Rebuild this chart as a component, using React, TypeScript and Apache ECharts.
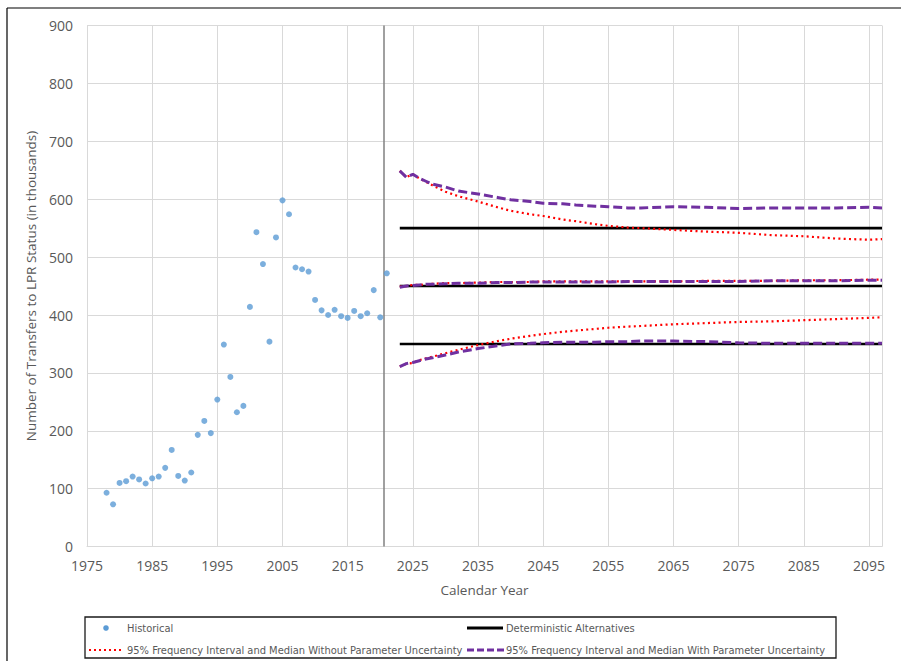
import React, { useEffect, useRef } from "react";
import * as echarts from "echarts";

// Historical transfers to LPR status (thousands), 1978-2021
const histYears = [
  1978, 1979, 1980, 1981, 1982, 1983, 1984, 1985, 1986, 1987, 1988, 1989, 1990, 1991,
  1992, 1993, 1994, 1995, 1996, 1997, 1998, 1999, 2000, 2001, 2002, 2003, 2004, 2005,
  2006, 2007, 2008, 2009, 2010, 2011, 2012, 2013, 2014, 2015, 2016, 2017, 2018, 2019,
  2020, 2021,
];
const histValues = [
  93, 73, 110, 113, 121, 116, 109, 118, 121, 136, 167, 122, 114, 128,
  193, 217, 196, 254, 349, 293, 232, 243, 414, 543, 488, 354, 534, 598,
  574, 482, 479, 475, 426, 408, 400, 409, 398, 395, 407, 398, 403, 443,
  396, 472,
];

// Projection years
const projYears = [
  2023, 2024, 2025, 2026, 2027, 2028, 2030, 2032, 2035, 2038, 2040, 2043, 2045, 2048,
  2050, 2053, 2055, 2058, 2060, 2065, 2070, 2075, 2080, 2085, 2090, 2095, 2097,
];

// Without parameter uncertainty (red dotted)
const noParamUpper = [
  649, 638, 643, 636, 630, 624, 613, 605, 596, 586, 580, 574, 571, 565,
  562, 557, 554, 551, 550, 547, 544, 542, 538, 536, 532, 530, 531,
];
const noParamMedian = [
  449, 450, 452, 452, 453, 454, 455, 455, 456, 457, 457, 457, 458, 458,
  458, 458, 458, 458, 458, 458, 459, 459, 459, 460, 460, 461, 461,
];
const noParamLower = [
  311, 316, 317, 322, 325, 328, 334, 340, 348, 355, 359, 364, 367, 371,
  373, 376, 378, 380, 381, 384, 386, 388, 389, 391, 393, 395, 396,
];

// With parameter uncertainty (purple dashed)
const paramUpper = [
  649, 638, 643, 636, 631, 626, 621, 614, 609, 603, 599, 596, 593, 592,
  590, 588, 587, 585, 585, 587, 586, 584, 585, 585, 585, 586, 585,
];
const paramMedian = [
  448, 450, 451, 452, 453, 453, 454, 455, 455, 456, 456, 457, 457, 457,
  457, 457, 457, 458, 458, 458, 458, 458, 459, 459, 459, 460, 460,
];
const paramLower = [
  311, 316, 318, 321, 324, 326, 331, 336, 342, 347, 350, 351, 352, 353,
  353, 353, 354, 354, 355, 355, 354, 352, 351, 351, 351, 351, 351,
];

// Deterministic alternatives (flat levels)
const detYears = [2023, 2097];
const detLevels = [550, 450, 350];

const divider = 2020.5;

const xTicks = { min: 1975, max: 2097, interval: 10 };
const yTicks = { min: 0, max: 900, interval: 100 };

const legendLabels = [
  "Historical",
  "Deterministic Alternatives",
  "95% Frequency Interval and Median Without Parameter Uncertainty",
  "95% Frequency Interval and Median With Parameter Uncertainty",
];

const RED = "#FF0000";
const PURPLE = "#7030A0";
const BLUE = "#5B9BD5";
const GRID = "#D9D9D9";
const TXT = "#595959";
const FONT = "'Open Sans', sans-serif";
const NARROW = "'Liberation Sans Narrow', 'DejaVu Sans Condensed', 'Open Sans', sans-serif";

const pairs = (xs: number[], ys: number[]) => xs.map((x, i) => [x, ys[i]]);

export default function App() {
  const ref = useRef<HTMLDivElement>(null);

  useEffect(() => {
    if (!ref.current) return;
    const chart = echarts.init(ref.current, undefined, { renderer: "svg" });

    const detSeries = detLevels.map((lv) => ({
      type: "line",
      name: legendLabels[1],
      data: detYears.map((y) => [y, lv]),
      showSymbol: false,
      symbol: "none",
      lineStyle: { color: "#000", width: 2.6 },
      z: 3,
    }));
    const redSeries = [noParamUpper, noParamMedian, noParamLower].map((d) => ({
      type: "line",
      name: legendLabels[2],
      data: pairs(projYears, d),
      symbol: "none",
      lineStyle: { color: RED, width: 2.2, type: [2, 3.3] },
      z: 4,
    }));
    const purpleSeries = [paramUpper, paramMedian, paramLower].map((d) => ({
      type: "line",
      name: legendLabels[3],
      data: pairs(projYears, d),
      symbol: "none",
      lineStyle: { color: PURPLE, width: 3, type: [9, 4] },
      z: 5,
    }));

    const legY1 = 628;
    const legY2 = 650;
    const LF = `11px ${NARROW}`;
    const legendGraphics: any[] = [
      {
        type: "rect",
        shape: { x: 85, y: 617, width: 751, height: 41 },
        style: { fill: "none", stroke: "#1a1a1a", lineWidth: 1.3 },
      },
      { type: "circle", shape: { cx: 106, cy: legY1, r: 2.8 }, style: { fill: BLUE } },
      {
        type: "text",
        x: 127,
        y: legY1,
        style: { text: legendLabels[0], fill: TXT, font: LF, verticalAlign: "middle" },
      },
      {
        type: "line",
        shape: { x1: 467, y1: legY1, x2: 503, y2: legY1 },
        style: { stroke: "#000", lineWidth: 3 },
      },
      {
        type: "text",
        x: 506,
        y: legY1,
        style: { text: legendLabels[1], fill: TXT, font: LF, verticalAlign: "middle" },
      },
      {
        type: "line",
        shape: { x1: 89, y1: legY2, x2: 124, y2: legY2 },
        style: { stroke: RED, lineWidth: 2.2, lineDash: [2, 3] },
      },
      {
        type: "text",
        x: 127,
        y: legY2,
        style: { text: legendLabels[2], fill: TXT, font: LF, verticalAlign: "middle" },
      },
      {
        type: "line",
        shape: { x1: 467, y1: legY2, x2: 504, y2: legY2 },
        style: { stroke: PURPLE, lineWidth: 3, lineDash: [7, 3] },
      },
      {
        type: "text",
        x: 506,
        y: legY2,
        style: { text: legendLabels[3], fill: TXT, font: LF, verticalAlign: "middle" },
      },
      // outer frame (top & left edges visible)
      { type: "line", shape: { x1: 7, y1: 8, x2: 901, y2: 8 }, style: { stroke: "#000", lineWidth: 1.2 } },
      { type: "line", shape: { x1: 7, y1: 8, x2: 7, y2: 661 }, style: { stroke: "#000", lineWidth: 1.2 } },
    ];

    chart.setOption({
      animation: false,
      backgroundColor: "#fff",
      textStyle: { fontFamily: FONT },
      grid: { left: 87, top: 25.5, right: 19, bottom: 114.4 },
      xAxis: {
        type: "value",
        min: xTicks.min,
        max: xTicks.max,
        interval: xTicks.interval,
        name: "Calendar Year",
        nameLocation: "middle",
        nameGap: 36,
        nameTextStyle: { color: TXT, fontSize: 13.5, fontFamily: FONT },
        axisLine: { show: true, lineStyle: { color: GRID, width: 1 } },
        axisTick: { show: false },
        axisLabel: {
          color: TXT,
          fontSize: 14,
          fontFamily: FONT,
          margin: 12,
          showMaxLabel: false,
          formatter: (v: number) => ((v - xTicks.min) % xTicks.interval === 0 ? String(v) : ""),
        },
        splitLine: { show: true, lineStyle: { color: GRID, width: 1 } },
      },
      yAxis: {
        type: "value",
        min: yTicks.min,
        max: yTicks.max,
        interval: yTicks.interval,
        name: "Number of Transfers to LPR Status (in thousands)",
        nameLocation: "middle",
        nameGap: 43,
        nameTextStyle: { color: TXT, fontSize: 13.5, fontFamily: FONT },
        axisLine: { show: true, lineStyle: { color: GRID, width: 1 } },
        axisTick: { show: false },
        axisLabel: { color: TXT, fontSize: 14, fontFamily: FONT, margin: 14 },
        splitLine: { show: true, lineStyle: { color: GRID, width: 1 } },
      },
      series: [
        {
          type: "scatter",
          name: legendLabels[0],
          data: pairs(histYears, histValues),
          symbolSize: 6,
          itemStyle: { color: BLUE },
          z: 6,
          markLine: {
            silent: true,
            symbol: "none",
            label: { show: false },
            lineStyle: { color: "#808080", width: 1.5, type: "solid" },
            data: [{ xAxis: divider }],
          },
        },
        ...detSeries,
        ...redSeries,
        ...purpleSeries,
      ],
      graphic: legendGraphics,
    });

    return () => chart.dispose();
  }, []);

  return (
    <div
      ref={ref}
      style={{ position: "fixed", left: 0, top: 0, width: 901, height: 661, background: "#fff" }}
    />
  );
}
